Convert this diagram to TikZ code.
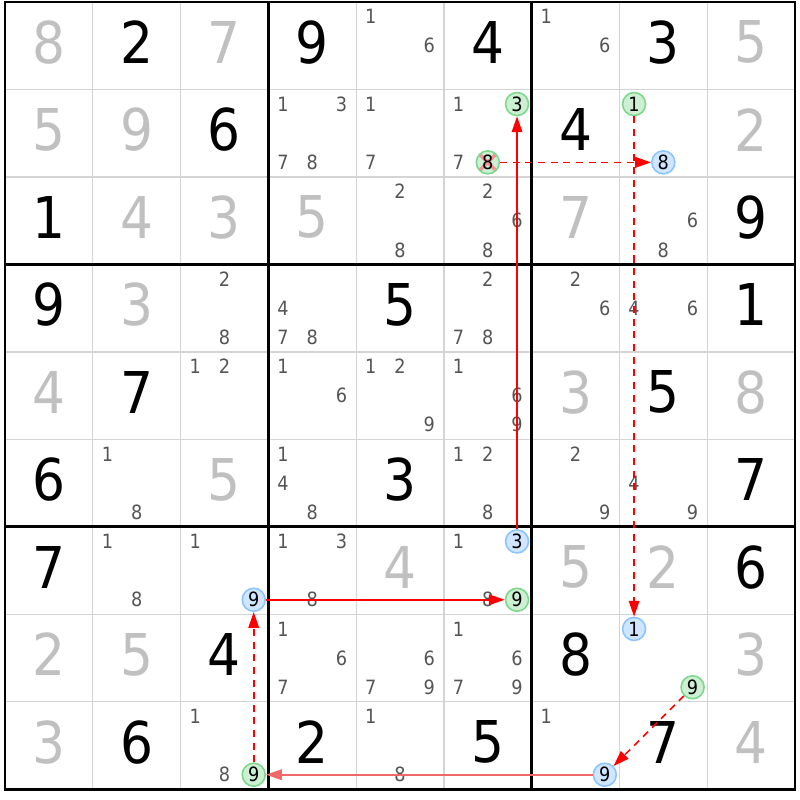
\documentclass[tikz,border=0pt]{standalone}
\usepackage{fontspec}
\setmainfont{DejaVu Sans Condensed}
\usetikzlibrary{arrows.meta}

\definecolor{solvedgray}{RGB}{192,192,192}
\definecolor{candgray}{RGB}{85,85,85}
\definecolor{gridgray}{RGB}{212,212,212}
\definecolor{ongreen}{RGB}{206,240,210}
\definecolor{ongreenline}{RGB}{125,215,140}
\definecolor{offblue}{RGB}{208,230,255}
\definecolor{offblueline}{RGB}{140,196,255}
\definecolor{elimred}{RGB}{240,150,150}
\definecolor{linkred}{RGB}{255,0,0}
\definecolor{lightlink}{RGB}{240,105,105}

\tikzset{
  thinrule/.style={draw=gridgray, line width=0.35pt},
  boxrule/.style={draw=black, line width=0.8pt},
  given/.style={inner sep=0pt, text=black, font=\fontsize{16.4}{18}\selectfont},
  solved/.style={given, text=solvedgray},
  cand/.style={circle, minimum size=0.23cm, inner sep=0pt, text=candgray, font=\fontsize{5.6}{6}\selectfont},
  candon/.style={cand, text=black, draw=ongreenline, fill=ongreen, line width=0.45pt},
  candoff/.style={cand, text=black, draw=offblueline, fill=offblue, line width=0.45pt},
  elim/.style={path picture={
      \draw[draw=elimred, line width=1pt] (path picture bounding box.north west) -- (path picture bounding box.south east);
      \draw[draw=elimred, line width=1pt] (path picture bounding box.north east) -- (path picture bounding box.south west);}},
  strong/.style={draw=linkred, line width=0.45pt, -{Triangle[length=4.5pt,width=3pt,fill=linkred]}},
  weak/.style={strong, dash pattern=on 2pt off 1.6pt},
}

% candidate d in cell (row,col): 3x3 sub grid
\newcommand\candnode[4]{%
  \pgfmathsetmacro\cx{#3-1+(2*mod(#4-1,3)+1)/6}%
  \pgfmathsetmacro\cy{#2-1+(2*floor((#4-1)/3)+1)/6}%
  \node[#1] (c#2#3#4) at (\cx,\cy) {#4};}

\begin{document}
\begin{tikzpicture}[x=0.878cm, y=-0.875cm]
  \useasboundingbox[fill=white] (-0.057,-0.023) rectangle (9.057,9.12);
  %grid
	\foreach \i in {1,2,4,5,7,8} {
		\draw[thinrule] (\i,0) -- (\i,9);
		\draw[thinrule] (0,\i) -- (9,\i);
	}
	\foreach \i in {3,6} {
		\draw[boxrule] (\i,0) -- (\i,9);
		\draw[boxrule] (0,\i) -- (9,\i);
	}
	\draw[boxrule] (0,0) rectangle (9,9);

  %givens
	\foreach \row/\col/\dig in {1/2/2, 1/4/9, 1/6/4, 1/8/3, 2/3/6, 2/7/4, 3/1/1, 3/9/9,
		4/1/9, 4/5/5, 4/9/1, 5/2/7, 5/8/5, 6/1/6, 6/5/3, 6/9/7, 7/1/7, 7/9/6,
		8/3/4, 8/7/8, 9/2/6, 9/4/2, 9/6/5, 9/8/7}
		\node[given] (g\row\col) at (\col-0.5,\row-0.54) {\dig};

  %solved cells
	\foreach \row/\col/\dig in {1/1/8, 1/3/7, 1/9/5, 2/1/5, 2/2/9, 2/9/2, 3/2/4, 3/3/3,
		3/4/5, 3/7/7, 4/2/3, 5/1/4, 5/7/3, 5/9/8, 6/3/5, 7/5/4, 7/7/5, 7/8/2,
		8/1/2, 8/2/5, 8/9/3, 9/1/3, 9/9/4}
		\node[solved] (s\row\col) at (\col-0.5,\row-0.54) {\dig};

  %candidates
	\foreach \row/\col/\list in {1/5/{1,6}, 1/7/{1,6}, 2/4/{1,3,7,8}, 2/5/{1,7}, 2/6/{1,7},
		3/5/{2,8}, 3/6/{2,6,8}, 3/8/{6,8}, 4/3/{2,8}, 4/4/{4,7,8}, 4/6/{2,7,8},
		4/7/{2,6}, 4/8/{4,6}, 5/3/{1,2}, 5/4/{1,6}, 5/5/{1,2,9}, 5/6/{1,6,9},
		6/2/{1,8}, 6/4/{1,4,8}, 6/6/{1,2,8}, 6/7/{2,9}, 6/8/{4,9}, 7/2/{1,8},
		7/3/{1}, 7/4/{1,3,8}, 7/6/{1,8}, 8/4/{1,6,7}, 8/5/{6,7,9}, 8/6/{1,6,7,9},
		9/3/{1,8}, 9/5/{1,8}, 9/7/{1}}
		\foreach \dig in \list {\candnode{cand}{\row}{\col}{\dig}}

  %chain candidates
	\candnode{candon}{2}{6}{3}
	\candnode{candon,elim}{2}{6}{8}
	\candnode{candon}{2}{8}{1}
	\candnode{candoff}{2}{8}{8}
	\candnode{candoff}{7}{3}{9}
	\candnode{candoff}{7}{6}{3}
	\candnode{candon}{7}{6}{9}
	\candnode{candoff}{8}{8}{1}
	\candnode{candon}{8}{8}{9}
	\candnode{candon}{9}{3}{9}
	\candnode{candoff}{9}{7}{9}

  %links
	\draw[strong] (c763) -- (c263);
	\draw[weak] (c268) -- (c288);
	\draw[weak] (c281) -- (c881);
	\draw[weak] (c889) -- (c979);
	\draw[strong, draw=lightlink, -{Triangle[length=4.5pt,width=3pt,fill=lightlink]}] (c979) -- (c939);
	\draw[weak] (c939.north) -- (c739.south);
	\draw[strong] (c739.east) -- (c769.west);
\end{tikzpicture}
\end{document}
